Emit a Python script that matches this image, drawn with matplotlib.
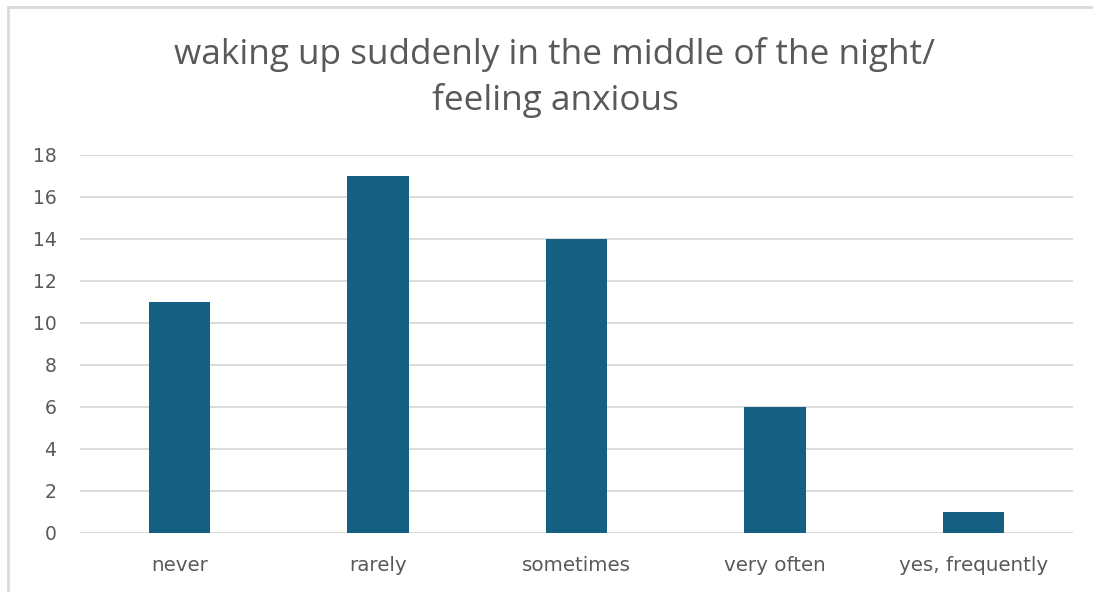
import matplotlib
matplotlib.use("Agg")
import matplotlib.pyplot as plt
from matplotlib.patches import Rectangle

categories = ["never", "rarely", "sometimes", "very often", "yes, frequently"]
values = [11, 17, 14, 6, 1]
yticks = [0, 2, 4, 6, 8, 10, 12, 14, 16, 18]
title = "waking up suddenly in the middle of the night/\nfeeling anxious"

plt.rcParams['font.family'] = ['DejaVu Sans']

fig = plt.figure(figsize=(10.93, 5.92), dpi=100)
fig.patch.set_facecolor("white")

# chart border
fig.patches.append(Rectangle((8/1093, -0.1), 1.2, 1 - 7/592 + 0.1, transform=fig.transFigure,
                             fill=False, edgecolor="#d9d9d9", linewidth=2, zorder=0))

ax = fig.add_axes([80/1093, 1 - 533/592, (1073 - 80)/1093, (533 - 155)/592])
x = range(len(categories))
ax.bar(x, values, width=0.31, color="#155f82", zorder=3)
ax.set_xlim(-0.5, len(categories) - 0.5)
ax.set_ylim(0, 18)
ax.set_yticks(yticks)
ax.set_xticks(list(x))
ax.set_xticklabels(categories)
ax.grid(axis="y", color="#d9d9d9", linewidth=1.3, zorder=0)
for s in ax.spines.values():
    s.set_visible(False)
ax.tick_params(axis="both", length=0, colors="#595959", labelsize=13.5)
ax.tick_params(axis="x", labelsize=14.3, pad=16.5)
ax.tick_params(axis="y", pad=17)
for lbl in ax.get_xticklabels() + ax.get_yticklabels():
    lbl.set_color("#595959")

fig.text(555/1093, 1 - 77.5/592, title, ha="center", va="center", fontsize=25.3,
         color="#595959", linespacing=1.4, family=['Open Sans', 'DejaVu Sans'])

fig.savefig("out.png", dpi=100, facecolor="white")
